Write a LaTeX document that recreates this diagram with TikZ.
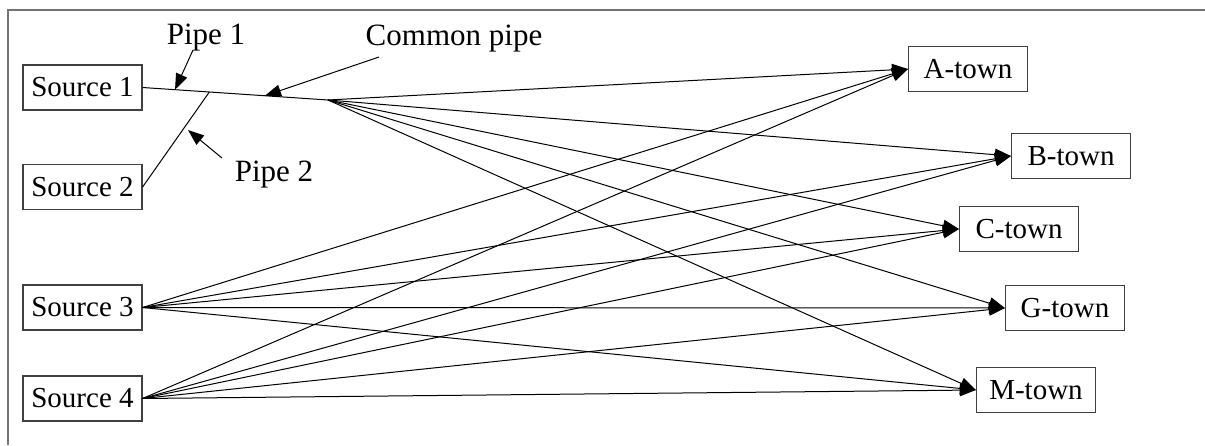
\documentclass[tikz,border=0pt]{standalone}
\usepackage{fontspec}
\setmainfont{Liberation Serif}
\usetikzlibrary{positioning, arrows.meta, calc}
\tikzset{
  place/.style={
    draw=black!75,
    rectangle,
    line width=0.6pt,
    minimum width=59.5pt,
    minimum height=22.5pt,
    inner sep=2pt,
    font=\fontsize{14.5}{16}\selectfont
  },
  tag/.style={
    inner sep=1pt,
    font=\fontsize{15.5}{17}\selectfont
  },
  flow/.style={
    line width=0.5pt,
    -{Triangle[length=8pt, width=6pt]}
  },
  pipe/.style={
    line width=0.5pt
  }
}

\begin{document}
\begin{tikzpicture}[x=0.5pt, y=-0.5pt]
    \useasboundingbox (0,0) rectangle (1205,445);
    % frame
    \draw[black!55, line width=0.7pt] (8,445) -- (8,10) -- (1205,10);

    % sources
    \node[place] (s1) at (82.5,87.5) {Source 1};
    \node[place] (s2) at (82.5,187) {Source 2};
    \node[place] (s3) at (82.5,307.5) {Source 3};
    \node[place] (s4) at (82.5,398.5) {Source 4};

    % towns
    \node[place] (a) at (968,69) {A-town};
    \node[place] (b) at (1071,156) {B-town};
    \node[place] (c) at (1019,229) {C-town};
    \node[place] (g) at (1065,308) {G-town};
    \node[place] (m) at (1036,390) {M-town};

    % pipes
    \coordinate (junc) at (328,100);
    \coordinate (meet) at ($(s1.east)!0.36!(junc)$);
    \draw[pipe] (s1.east) -- (junc);
    \draw[pipe] (s2.east) -- (meet);

    \foreach \t in {a,b,c,g,m}
        \draw[flow] (junc) -- (\t.west);
    \foreach \s in {s3,s4}
        \foreach \t in {a,b,c,g,m}
            \draw[flow] (\s.east) -- (\t.west);

    % labels
    \node[tag] (p1lbl) at (206,38) {Pipe 1};
    \node[tag] (cplbl) at (454,39) {Common pipe};
    \node[tag] (p2lbl) at (274,175) {Pipe 2};
    \coordinate (p1from) at (193,50);
    \coordinate (p1to) at ($(s1.east)!0.175!(junc)$);
    \coordinate (cpfrom) at (379,57);
    \coordinate (cpto) at ($(s1.east)!0.66!(junc)$);
    \coordinate (p2from) at (222,158);
    \coordinate (p2to) at (188,130);
    \draw[flow] (p1from) -- (p1to);
    \draw[flow] (cpfrom) -- (cpto);
    \draw[flow] (p2from) -- (p2to);
\end{tikzpicture}
\end{document}
